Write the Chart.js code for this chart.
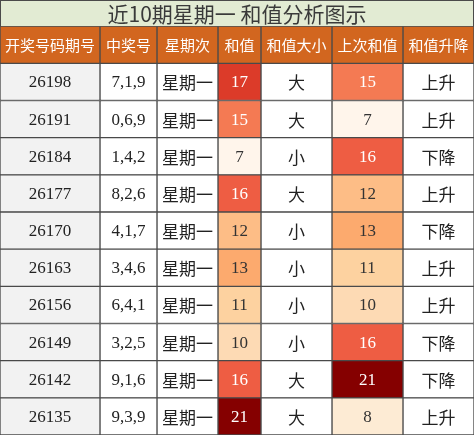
<!DOCTYPE html><html><head><meta charset="utf-8">
<script src="https://cdn.jsdelivr.net/npm/chart.js@4"></script>
<style>html,body{margin:0;padding:0;background:#fff}#w{width:474px;height:435px}</style></head>
<body><div id="w"><canvas id="c"></canvas></div>
<script>
const titleText = '近10期星期一 和值分析图示';
const headers = ['开奖号码期号','中奖号','星期次','和值','和值大小','上次和值','和值升降'];
const periods = ['26198','26191','26184','26177','26170','26163','26156','26149','26142','26135'];
const numbers = ['7,1,9','0,6,9','1,4,2','8,2,6','4,1,7','3,4,6','6,4,1','3,2,5','9,1,6','9,3,9'];
const weekday = ['星期一','星期一','星期一','星期一','星期一','星期一','星期一','星期一','星期一','星期一'];
const sums = [17,15,7,16,12,13,11,10,16,21];
const sizes = ['大','大','小','大','小','小','小','小','大','大'];
const prevSums = [15,7,16,12,13,11,10,16,21,8];
const trend = ['上升','上升','下降','上升','下降','上升','上升','下降','下降','上升'];
const colWidths = [100,57,61,43,71,71,71];

const heat = {7:'#fff5eb',8:'#fdebd4',10:'#fddab4',11:'#fdd2a0',12:'#fdbd86',13:'#fcaa6e',15:'#f47a53',16:'#ee5d43',17:'#dc3b29',21:'#850000'};
const heatText = v => v>=15 ? '#ffffff' : '#333333';

const rows = ['header', ...periods];
const cellText = [
  [headers[0],...periods],[headers[1],...numbers],[headers[2],...weekday],[headers[3],...sums.map(String)],
  [headers[4],...sizes],[headers[5],...prevSums.map(String)],[headers[6],...trend]];

const datasets = colWidths.map((w,ci)=>({
  data: rows.map(()=>w),
  backgroundColor: rows.map((r,ri)=>{
    if(ri===0) return '#d2661f';
    if(ci===3) return heat[sums[ri-1]];
    if(ci===5) return heat[prevSums[ri-1]];
    if(ci===0) return '#f2f2f2';
    return '#ffffff';
  }),
  borderColor:'#4a4a4a', borderWidth:1, borderSkipped:false,
  barPercentage:1, categoryPercentage:1
}));

const textPlugin = {
  id:'txt',
  beforeDraw(chart){
    const ctx = chart.ctx;
    ctx.save(); ctx.fillStyle='#e2ebd3'; ctx.fillRect(0,0,474,chart.chartArea.top);
    ctx.strokeStyle='#4a4a4a'; ctx.lineWidth=1; ctx.strokeRect(0.5,0.5,473,chart.chartArea.top); ctx.restore();
  },
  afterDatasetsDraw(chart){
    const ctx = chart.ctx; ctx.save(); ctx.textAlign='center'; ctx.textBaseline='middle';
    chart.data.datasets.forEach((ds,ci)=>{
      chart.getDatasetMeta(ci).data.forEach((bar,ri)=>{
        const s = cellText[ci][ri];
        const x = (bar.x + bar.base)/2, y = bar.y;
        let color = '#222';
        let font = '17px "Noto Sans CJK SC"';
        if(ri===0){ color='#ffffff'; font='15px "Noto Sans CJK SC"'; }
        else {
          if(/^[0-9,]+$/.test(s)) font='17px "Liberation Serif"';
          if(ci===3) color=heatText(sums[ri-1]);
          if(ci===5) color=heatText(prevSums[ri-1]);
        }
        ctx.font=font; ctx.fillStyle=color; ctx.fillText(s,x,y+1);
      });
    });
    ctx.restore();
  }
};

new Chart(document.getElementById('c'),{
  type:'bar',
  data:{labels:rows,datasets},
  options:{
    indexAxis:'y', responsive:true, maintainAspectRatio:false, animation:false,
    layout:{padding:0},
    scales:{x:{stacked:true,min:0,max:474,display:false},y:{stacked:true,display:false}},
    plugins:{legend:{display:false},tooltip:{enabled:false},
      title:{display:true,text:titleText,color:'#3a3a3a',font:{size:21,family:'"Noto Sans CJK SC"',weight:'normal'},padding:{top:1,bottom:0}}}
  },
  plugins:[textPlugin]
});
</script></body></html>
